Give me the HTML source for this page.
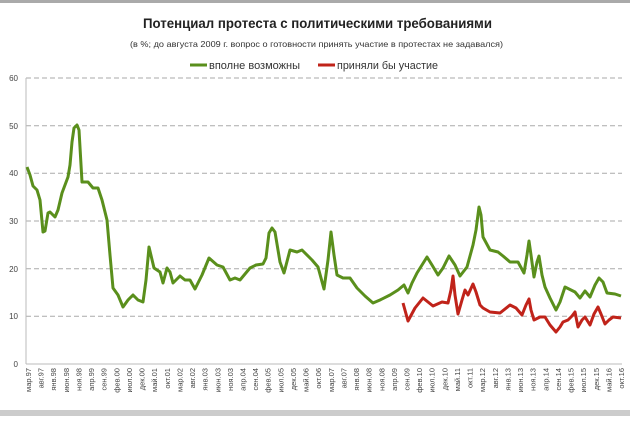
<!DOCTYPE html>
<html><head><meta charset="utf-8"><style>
body{margin:0;width:630px;height:416px;overflow:hidden;background:#fff;font-family:"Liberation Sans","DejaVu Sans",sans-serif}
</style></head><body>
<svg width="630" height="416" xmlns="http://www.w3.org/2000/svg" font-family="Liberation Sans, DejaVu Sans, sans-serif">
<rect x="0" y="0" width="630" height="3" fill="#aaa"/>
<rect x="0" y="410" width="630" height="6" fill="#ccc"/>
<text x="143" y="28" font-size="14" font-weight="bold" fill="#222" textLength="349" lengthAdjust="spacingAndGlyphs">Потенциал протеста с политическими требованиями</text>
<text x="130" y="47" font-size="8.5" fill="#333" textLength="373" lengthAdjust="spacingAndGlyphs">(в %; до августа 2009 г. вопрос о готовности принять участие в протестах не задавался)</text>
<line x1="190" y1="65" x2="207" y2="65" stroke="#5a8f1c" stroke-width="3"/>
<text x="209" y="69" font-size="11" fill="#333" textLength="91" lengthAdjust="spacingAndGlyphs">вполне возможны</text>
<line x1="318" y1="65" x2="335" y2="65" stroke="#c0231a" stroke-width="3"/>
<text x="337" y="69" font-size="11" fill="#333" textLength="101" lengthAdjust="spacingAndGlyphs">приняли бы участие</text>
<g stroke="#aaa" stroke-width="1" stroke-dasharray="5,3">
<line x1="26" y1="78" x2="622" y2="78"/><line x1="26" y1="125.7" x2="622" y2="125.7"/><line x1="26" y1="173.3" x2="622" y2="173.3"/><line x1="26" y1="221" x2="622" y2="221"/><line x1="26" y1="268.7" x2="622" y2="268.7"/><line x1="26" y1="316.3" x2="622" y2="316.3"/>
</g>
<line x1="26" y1="78" x2="26" y2="364" stroke="#bbb"/>
<line x1="26" y1="364" x2="622" y2="364" stroke="#bbb"/>
<g font-size="8" fill="#444" text-anchor="end">
<text x="18" y="81">60</text><text x="18" y="129">50</text><text x="18" y="176">40</text><text x="18" y="224">30</text><text x="18" y="272">20</text><text x="18" y="319">10</text><text x="18" y="367">0</text>
</g>
<polyline fill="none" stroke="#5a8f1c" stroke-width="3" stroke-linejoin="round" points="27,167 30,175 33,186 37,190 40,200 43,232 45,231 48,213 50,212 55,217 58,210 62,193 68,177 70,165 72,142 74,128 77,125 79,130 82,182 88,182 93,188 98,188 102,200 107,220 110,255 113,288 118,295 123,307 128,300 133,295 138,300 143,302 146,280 149,247 154,268 160,272 163,283 167,268 170,272 173,283 180,276 185,280 190,280 195,289 202,275 209,258 217,265 223,267 230,280 235,278 240,280 250,268 256,265 263,264 266,258 269,233 272,228 275,232 280,262 284,273 290,250 297,252 302,250 312,260 318,267 324,289 328,260 331,232 334,255 337,275 343,278 350,278 357,288 365,296 373,303 380,300 390,295 398,290 404,285 408,293 412,283 417,273 427,257 432,265 438,275 443,268 449,256 455,265 460,276 467,267 473,245 476,230 479,207 481,215 483,237 490,250 498,252 503,256 510,262 518,262 524,273 527,255 529,241 531,255 534,277 537,262 539,256 542,275 545,287 550,298 556,310 560,302 565,287 575,292 580,298 585,291 590,297 595,285 599,278 603,282 607,293 615,294 621,296"/>
<polyline fill="none" stroke="#c0231a" stroke-width="3" stroke-linejoin="round" points="403,303 408,321 415,308 423,298 428,302 433,306 442,302 448,303 451,290 453,276 455,295 458,314 462,300 465,290 468,295 473,284 476,292 480,305 483,308 490,312 500,313 510,305 516,308 522,315 526,305 529,299 531,310 534,320 540,317 545,317 550,325 556,332 560,327 563,322 568,320 572,316 575,312 578,327 582,320 585,317 590,325 594,314 598,307 601,314 605,324 609,320 613,317 621,318"/>
<g font-size="7.5" fill="#444" id="xl"></g>
</svg>
<script>
var L="мар.97 авг.97 янв.98 июн.98 ноя.98 апр.99 сен.99 фев.00 июл.00 дек.00 май.01 окт.01 мар.02 авг.02 янв.03 июн.03 ноя.03 апр.04 сен.04 фев.05 июл.05 дек.05 май.06 окт.06 мар.07 авг.07 янв.08 июн.08 ноя.08 апр.09 сен.09 фев.10 июл.10 дек.10 май.11 окт.11 мар.12 авг.12 янв.13 июн.13 ноя.13 апр.14 сен.14 фев.15 июл.15 дек.15 май.16 окт.16".split(" ");
var g=document.getElementById("xl"),n=L.length;
for(var i=0;i<n;i++){var x=28+i*(593/(n-1))+3;var t=document.createElementNS("http://www.w3.org/2000/svg","text");
t.setAttribute("x",x);t.setAttribute("y",368);t.setAttribute("text-anchor","end");
t.setAttribute("transform","rotate(-90 "+x+" 368)");t.textContent=L[i];g.appendChild(t);}
</script>
</body></html>
